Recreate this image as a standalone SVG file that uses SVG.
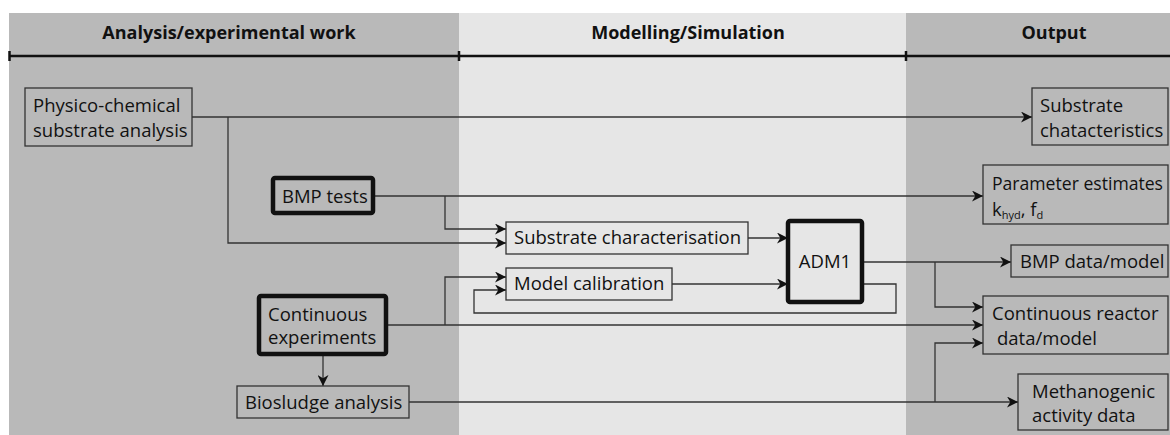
<svg xmlns="http://www.w3.org/2000/svg" width="1170" height="435" viewBox="0 0 1170 435">
<defs>
<style>
.t{font-family:"Open Sans","Noto Sans","Liberation Sans",sans-serif;font-size:18.5px;fill:#111}
.h{font-family:"Open Sans","Noto Sans","Liberation Sans",sans-serif;font-size:18px;font-weight:bold;fill:#111}
.box{fill:none;stroke:#333;stroke-width:1.3}
.thick{fill:none;stroke:#111;stroke-width:4.5}
.c{fill:none;stroke:#333;stroke-width:1.3}
.ax{stroke:#111;stroke-width:2.5}
</style>
<marker id="a" viewBox="0 0 10 10" refX="10" refY="5" markerWidth="11" markerHeight="11" markerUnits="userSpaceOnUse" orient="auto">
<path d="M0,0 L10,5 L0,10 L3,5 Z" fill="#111"/>
</marker>
</defs>
<rect x="0" y="0" width="1170" height="435" fill="#fff"/>
<rect x="9" y="13" width="450" height="422" fill="#b9b9b9"/>
<rect x="459" y="13" width="447" height="422" fill="#e6e6e6"/>
<rect x="906" y="13" width="264" height="422" fill="#b9b9b9"/>
<g id="header">
<line class="ax" x1="9" y1="56" x2="1170" y2="56"/>
<line class="ax" x1="9.5" y1="51" x2="9.5" y2="61"/>
<line class="ax" x1="459" y1="51" x2="459" y2="61"/>
<line class="ax" x1="906" y1="51" x2="906" y2="61"/>
<text class="h" x="229" y="39" text-anchor="middle">Analysis/experimental work</text>
<text class="h" x="688" y="39" text-anchor="middle">Modelling/Simulation</text>
<text class="h" x="1054" y="39" text-anchor="middle">Output</text>
</g>
<g id="connectors">
<path class="c" d="M192,117 H1032" marker-end="url(#a)"/>
<path class="c" d="M228,117 V243 H506" marker-end="url(#a)"/>
<path class="c" d="M373,196 H983" marker-end="url(#a)"/>
<path class="c" d="M445,196 V229 H506" marker-end="url(#a)"/>
<path class="c" d="M748,238 H788" marker-end="url(#a)"/>
<path class="c" d="M672,284 H788" marker-end="url(#a)"/>
<path class="c" d="M862,284 H896 V313 H474 V290 H506" marker-end="url(#a)"/>
<path class="c" d="M862,262 H1011" marker-end="url(#a)"/>
<path class="c" d="M935,262 V307 H983" marker-end="url(#a)"/>
<path class="c" d="M386,325 H983" marker-end="url(#a)"/>
<path class="c" d="M445,325 V277 H506" marker-end="url(#a)"/>
<path class="c" d="M323,354 V386" marker-end="url(#a)"/>
<path class="c" d="M409,402 H1018" marker-end="url(#a)"/>
<path class="c" d="M935,402 V343 H983" marker-end="url(#a)"/>
</g>
<g id="physico">
<rect class="box" x="25" y="88" width="167" height="58"/>
<text class="t" x="33" y="112">Physico-chemical</text>
<text class="t" x="33" y="137">substrate analysis</text>
</g>
<g id="bmp-tests">
<rect class="thick" x="273" y="178" width="100" height="35" rx="2"/>
<text class="t" x="282" y="203">BMP tests</text>
</g>
<g id="continuous-experiments">
<rect class="thick" x="259" y="296" width="127" height="58" rx="2"/>
<text class="t" x="268" y="321">Continuous</text>
<text class="t" x="268" y="344">experiments</text>
</g>
<g id="biosludge">
<rect class="box" x="237" y="386" width="172" height="32"/>
<text class="t" x="245" y="409">Biosludge analysis</text>
</g>
<g id="substrate-char">
<rect class="box" x="506" y="222" width="242" height="32"/>
<text class="t" x="514" y="244">Substrate characterisation</text>
</g>
<g id="model-cal">
<rect class="box" x="506" y="268" width="166" height="32"/>
<text class="t" x="514" y="290">Model calibration</text>
</g>
<g id="adm1">
<rect class="thick" x="788" y="221" width="74" height="81" rx="2"/>
<text class="t" x="825" y="268" text-anchor="middle">ADM1</text>
</g>
<g id="out-substrate">
<rect class="box" x="1032" y="88" width="136" height="57"/>
<text class="t" x="1040" y="112">Substrate</text>
<text class="t" x="1040" y="137">chatacteristics</text>
</g>
<g id="out-param">
<rect class="box" x="983" y="165" width="185" height="59"/>
<text class="t" x="992" y="190" style="font-size:17.6px">Parameter estimates</text>
<text class="t" x="992" y="216">k<tspan font-size="11" dy="3">hyd</tspan><tspan dy="-3">, f</tspan><tspan font-size="11" dy="3">d</tspan></text>
</g>
<g id="out-bmp">
<rect class="box" x="1011" y="245" width="157" height="32"/>
<text class="t" x="1020" y="268">BMP data/model</text>
</g>
<g id="out-continuous">
<rect class="box" x="983" y="296" width="185" height="58"/>
<text class="t" x="992" y="320">Continuous reactor</text>
<text class="t" x="997" y="345">data/model</text>
</g>
<g id="out-methano">
<rect class="box" x="1018" y="374" width="150" height="56"/>
<text class="t" x="1032" y="398">Methanogenic</text>
<text class="t" x="1032" y="422">activity data</text>
</g>
</svg>
